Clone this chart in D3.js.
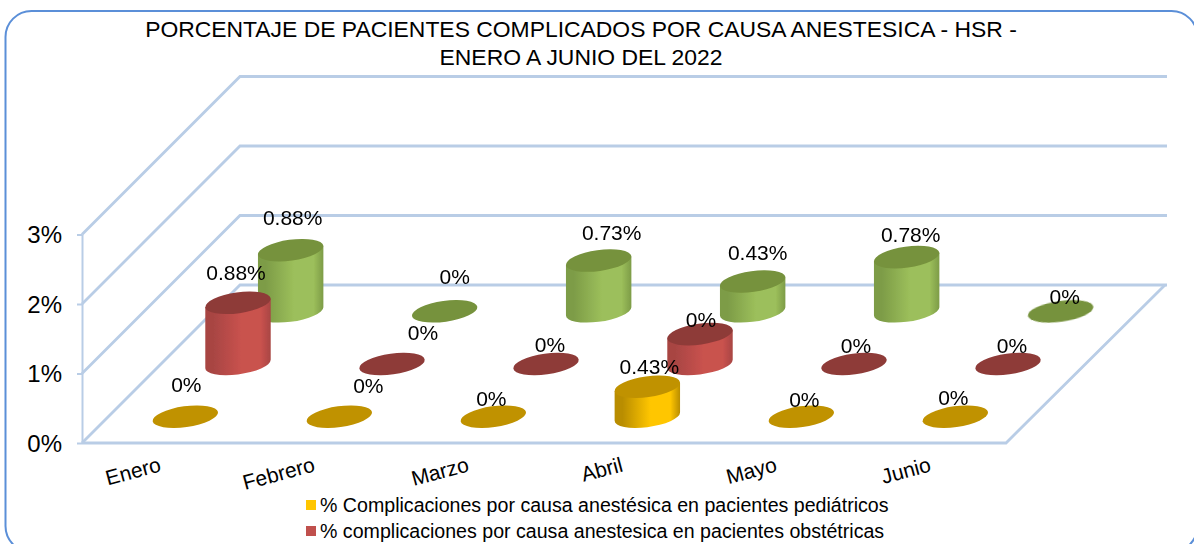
<!DOCTYPE html>
<html><head><meta charset="utf-8">
<script src="https://cdn.jsdelivr.net/npm/d3@7"></script>
<style>html,body{margin:0;padding:0;background:#fff;overflow:hidden}svg{display:block;font-family:"Liberation Sans",Arial,sans-serif;fill:#000}</style>
</head><body><svg id="c" width="1194" height="544"></svg>
<script>
const categories = ["Enero","Febrero","Marzo","Abril","Mayo","Junio"];
const seriesKeys = ["pediatricos","obstetricas","otros"];
const pediatricos = [0,0,0,0.43,0,0];
const obstetricas = [0.88,0,0,0.43,0,0];
const otros = [0.88,0,0.73,0.43,0.78,0];
const pediatricosLabels = ["0%","0%","0%","0.43%","0%","0%"];
const obstetricasLabels = ["0.88%","0%","0%","0%","0%","0%"];
const otrosLabels = ["0.88%","0%","0.73%","0.43%","0.78%","0%"];
const yTicks = [0,1,2,3];
const titleLines = ["PORCENTAJE DE PACIENTES COMPLICADOS POR CAUSA ANESTESICA - HSR -","ENERO A JUNIO DEL 2022"];
const legendLabels = ["% Complicaciones por causa anestésica en pacientes pediátricos","% complicaciones por causa anestesica en pacientes obstétricas"];

// layout, separate from the data
const pal = {
  pediatricos:{top:"#c09200",edge:"#b98d00",mid:"#ffc600"},
  obstetricas:{top:"#8e3a38",edge:"#a84543",mid:"#c9524e"},
  otros:{top:"#76923c",edge:"#7d9c47",mid:"#9cbf5b"}
};
const labelNudge = {
  pediatricos:[[1,-32],[29,-31],[-2,-18],[2,-20],[3,-17],[-2,-19]],
  obstetricas:[[-2,-30],[31,-32],[4,-20],[1,-15],[2,-19],[4,-19]],
  otros:[[2,-33],[10,-35],[13,-28],[5,-29],[4,-23],[4,-15]]
};
const dataBySeries = {pediatricos,obstetricas,otros};
const labelsBySeries = {pediatricos:pediatricosLabels,obstetricas:obstetricasLabels,otros:otrosLabels};

const svg = d3.select("#c");
const x0=82, xFloorEnd=1006, floorY=443, depth=158;
const x = d3.scaleBand().domain(categories).range([x0,xFloorEnd]);
const z = d3.scaleBand().domain(seriesKeys).range([0,depth]);
const y = d3.scaleLinear().domain([0,3]).range([floorY,floorY-208.5]);

const defs = svg.append("defs");
defs.append("filter").attr("id","soft").attr("x","-10%").attr("y","-10%").attr("width","120%").attr("height","120%")
  .append("feGaussianBlur").attr("stdDeviation",0.6);
seriesKeys.forEach(k=>{
  const g=defs.append("linearGradient").attr("id","g-"+k).attr("x1",0).attr("x2",1).attr("y1",0).attr("y2",0);
  [[0,pal[k].edge],[0.12,pal[k].edge],[0.55,pal[k].mid],[0.85,pal[k].mid],[1,pal[k].edge]].forEach(s=>g.append("stop").attr("offset",s[0]).attr("stop-color",s[1]));
});

// frame
svg.append("rect").attr("x",5.5).attr("y",11).attr("width",1192).attr("height",541).attr("rx",26).attr("ry",26)
  .attr("fill","#fff").attr("stroke","#5b8fd8").attr("stroke-width",2);

// title
svg.append("g").selectAll("text").data(titleLines).join("text")
  .attr("x",581).attr("y",(d,i)=>37+i*28).attr("text-anchor","middle").attr("font-size",22.9).text(d=>d);

// 3D grid
const grid = svg.append("g").attr("stroke","#b9cde6").attr("stroke-width",2.8).attr("fill","none").attr("filter","url(#soft)");
yTicks.forEach(t=>{
  grid.append("path").attr("d",d3.line()([[x0,y(t)],[x0+depth,y(t)-depth],[x0+depth+927,y(t)-depth]]));
});
grid.append("path").attr("d",d3.line()([[x0,floorY],[xFloorEnd,floorY],[xFloorEnd+depth+1,floorY-depth]]));

// y axis
const axis = svg.append("g").attr("transform",`translate(${x0},0)`)
  .call(d3.axisLeft(y).tickValues(yTicks).tickFormat(d=>d+"%").tickSize(5).tickSizeOuter(0));
axis.selectAll("path,line").attr("stroke","#b9cde6").attr("stroke-width",2);
axis.selectAll("text").attr("font-size",24).attr("font-family","'Liberation Sans',Arial,sans-serif").attr("fill","#000").attr("x",-20).attr("dy","0.34em");

// cylinders
const rx=33, ry=10.4, theta=-8*Math.PI/180;
const t1=Math.atan(-(ry/rx)*Math.tan(theta));
const tx=rx*Math.cos(t1)*Math.cos(theta)-ry*Math.sin(t1)*Math.sin(theta);
const ty=rx*Math.cos(t1)*Math.sin(theta)+ry*Math.sin(t1)*Math.cos(theta);
const rot=theta*180/Math.PI;
const unit=y(0)-y(1);
const back2front=[...seriesKeys].reverse();
const marks=svg.append("g").attr("filter","url(#soft)");
back2front.forEach(k=>{
  const vals=dataBySeries[k];
  categories.forEach((c,i)=>{
    const cx=x(c)+x.bandwidth()/2+z(k)+z.bandwidth()/2;
    const cy=floorY-z(k)-z.bandwidth()/2;
    const top=cy-vals[i]*unit;
    const g=marks.append("g");
    if(vals[i]>0){
      g.append("path").attr("fill",`url(#g-${k})`)
       .attr("d",`M${cx-tx},${top-ty}L${cx-tx},${cy-ty}A${rx},${ry} ${rot} 0 0 ${cx+tx},${cy+ty}L${cx+tx},${top+ty}Z`);
    }
    g.append("ellipse").attr("cx",cx).attr("cy",top).attr("rx",rx).attr("ry",ry)
     .attr("transform",`rotate(${rot} ${cx} ${top})`).attr("fill",pal[k].top);
  });
});

// data labels
back2front.forEach(k=>{
  const vals=dataBySeries[k];
  svg.append("g").selectAll("text").data(categories).join("text")
    .attr("x",(c,i)=>x(c)+x.bandwidth()/2+z(k)+z.bandwidth()/2+labelNudge[k][i][0])
    .attr("y",(c,i)=>floorY-z(k)-z.bandwidth()/2-vals[i]*unit+labelNudge[k][i][1])
    .attr("dy","0.36em").attr("text-anchor","middle").attr("font-size",21).text((c,i)=>labelsBySeries[k][i]);
});

// category labels
svg.append("g").selectAll("text").data(categories).join("text")
  .attr("text-anchor","end").attr("font-size",21)
  .attr("transform",c=>`translate(${x(c)+x.bandwidth()/2+3},471) rotate(-15)`).text(c=>c);

// legend
const lg=svg.append("g");
legendLabels.forEach((t,i)=>{
  const row=lg.append("g").attr("transform",`translate(306,${500+i*26})`);
  row.append("rect").attr("width",10).attr("height",10).attr("fill",[pal.pediatricos.mid,"#c0504d"][i]);
  row.append("text").attr("x",14).attr("y",12).attr("font-size",19.6).text(t);
});
</script></body></html>
